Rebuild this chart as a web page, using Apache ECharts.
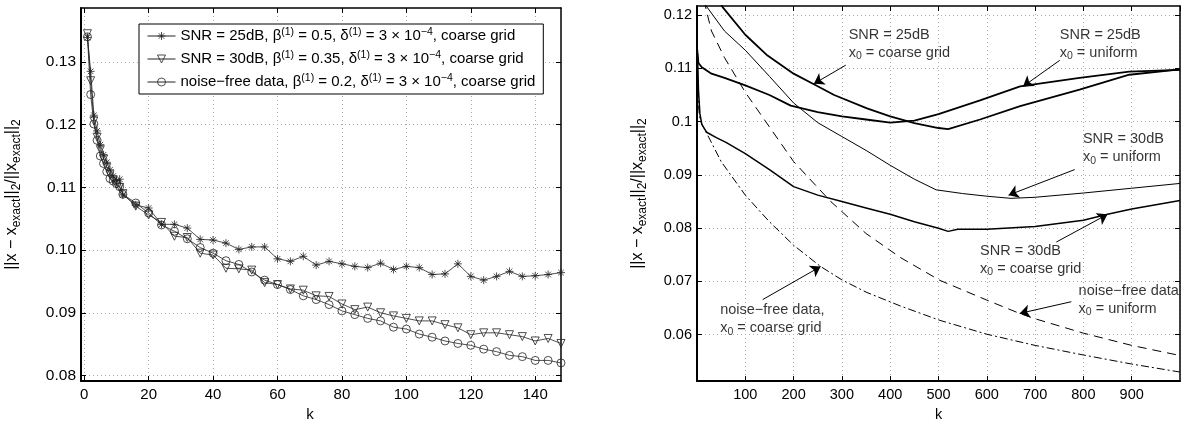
<!DOCTYPE html>
<html>
<head>
<meta charset="utf-8">
<script src="https://cdn.jsdelivr.net/npm/echarts@6/dist/echarts.min.js"></script>
<style>
html, body { margin: 0; padding: 0; background: #fff; }
#chart { width: 1188px; height: 427px; }
</style>
</head>
<body>
<div id="chart"></div>
<script>
// ---------- left panel: k vs relative error ----------
var kLeft = [1, 2, 3, 4, 5, 6, 7, 8, 9, 10, 11, 12, 16, 20, 24, 28, 32, 36, 40, 44, 48, 52, 56, 60,
    64, 68, 72, 76, 80, 84, 88, 92, 96, 100, 104, 108, 112, 116, 120, 124, 128, 132, 136, 140, 144, 148];
var snr25Left = [0.1339, 0.1285, 0.1215, 0.1190, 0.1168, 0.1152, 0.1140, 0.1128, 0.1118, 0.1110, 0.1113, 0.1088,
    0.1072, 0.1067, 0.1041, 0.1041, 0.1035, 0.1017, 0.1016, 0.1011, 0.1001, 0.1005, 0.1005, 0.0986,
    0.0982, 0.0990, 0.0976, 0.0982, 0.0978, 0.0974, 0.0972, 0.0979, 0.0969, 0.0974, 0.0972, 0.0961,
    0.0962, 0.0978, 0.0958, 0.0952, 0.0958, 0.0966, 0.0958, 0.0959, 0.0961, 0.0964];
var snr30Left = [0.1345, 0.1270, 0.1206, 0.1180, 0.1160, 0.1145, 0.1132, 0.1120, 0.1112, 0.1105, 0.1100, 0.1090,
    0.1070, 0.1056, 0.1044, 0.1022, 0.1020, 0.0995, 0.0992, 0.0971, 0.0970, 0.0968, 0.0948, 0.0945,
    0.0938, 0.0936, 0.0927, 0.0926, 0.0914, 0.0905, 0.0909, 0.0900, 0.0895, 0.0891, 0.0887, 0.0887,
    0.0881, 0.0876, 0.0865, 0.0868, 0.0868, 0.0865, 0.0862, 0.0855, 0.0859, 0.0851];
var noiseFreeLeft = [0.1340, 0.1248, 0.1201, 0.1175, 0.1150, 0.1138, 0.1125, 0.1114, 0.1110, 0.1106, 0.1101, 0.1089,
    0.1075, 0.1059, 0.1040, 0.1030, 0.1018, 0.1004, 0.0995, 0.0983, 0.0977, 0.0965, 0.0952, 0.0945,
    0.0937, 0.0927, 0.0921, 0.0913, 0.0903, 0.0897, 0.0891, 0.0887, 0.0877, 0.0874, 0.0866, 0.0861,
    0.0855, 0.0851, 0.0848, 0.0842, 0.0838, 0.0832, 0.0830, 0.0824, 0.0824, 0.0820];
var leftNames = ['SNR = 25dB', 'SNR = 30dB', 'noise-free data'];
var leftLegend = [
    'SNR = 25dB, β{sup|(1)} = 0.5, δ{sup|(1)} = 3 × 10{sup|−4}, coarse grid',
    'SNR = 30dB, β{sup|(1)} = 0.35, δ{sup|(1)} = 3 × 10{sup|−4}, coarse grid',
    'noise−free data, β{sup|(1)} = 0.2, δ{sup|(1)} = 3 × 10{sup|−4}, coarse grid'
];
var leftXTicks = [0, 20, 40, 60, 80, 100, 120, 140];
var leftYTicks = [0.08, 0.09, 0.10, 0.11, 0.12, 0.13];

// ---------- right panel ----------
var kA = [45, 53, 100, 146, 200, 242, 284, 352, 400, 450, 500, 520, 586, 669, 792, 895, 1000];
var snr25Coarse = [0.1228, 0.1215, 0.1163, 0.1124, 0.1090, 0.1070, 0.1050, 0.1025, 0.1010, 0.0997, 0.0988, 0.0986, 0.1004, 0.1029, 0.1060, 0.1088, 0.1098];
var kB = [1, 3, 10, 30, 57, 100, 150, 194, 250, 300, 350, 400, 450, 500, 586, 669, 792, 895, 1000];
var snr25Uniform = [0.1128, 0.1110, 0.1102, 0.1090, 0.1082, 0.1068, 0.1050, 0.1030, 0.1018, 0.1010, 0.1004, 0.0998, 0.1002, 0.1014, 0.1040, 0.1066, 0.1082, 0.1094, 0.1097];
var kC = [12, 15, 57, 100, 150, 200, 250, 300, 350, 400, 450, 495, 550, 600, 650, 700, 800, 900, 1000];
var snr30Uniform = [0.1228, 0.1222, 0.1170, 0.1134, 0.1085, 0.1035, 0.0998, 0.0972, 0.0946, 0.0918, 0.0892, 0.0872, 0.0865, 0.0860, 0.0856, 0.0858, 0.0866, 0.0875, 0.0884];
var kD = [1, 3, 6, 10, 20, 40, 60, 100, 150, 200, 250, 300, 350, 400, 450, 500, 520, 540, 600, 700, 800, 850, 900, 1000];
var snr30Coarse = [0.1135, 0.1060, 0.1015, 0.0995, 0.0980, 0.0970, 0.0961, 0.0940, 0.0910, 0.0878, 0.0862, 0.0850, 0.0838, 0.0826, 0.0812, 0.0800, 0.0794, 0.0798, 0.0798, 0.0803, 0.0815, 0.0826, 0.0836, 0.0852];
var kE = [15, 19, 30, 57, 100, 150, 200, 277, 350, 421, 503, 600, 668, 700, 800, 900, 1000];
var noiseFreeUniform = [0.1228, 0.1210, 0.1170, 0.1120, 0.1055, 0.0990, 0.0925, 0.0850, 0.0790, 0.0745, 0.0702, 0.0665, 0.0640, 0.0630, 0.0603, 0.0580, 0.0561];
var kF = [1, 5, 10, 19, 50, 100, 150, 200, 256, 300, 350, 421, 503, 600, 700, 800, 900, 1000];
var noiseFreeCoarse = [0.1060, 0.1010, 0.0995, 0.0980, 0.0925, 0.0862, 0.0812, 0.0768, 0.0728, 0.0703, 0.0680, 0.0654, 0.0627, 0.0601, 0.0580, 0.0562, 0.0545, 0.0530];
var rightYTicks = [0.06, 0.07, 0.08, 0.09, 0.10, 0.11, 0.12];

// 注释文字 [k, value, text] 与箭头 [k1, v1, k2, v2]
var notes = [
    [314, 0.1180, 'SNR = 25dB\nx{sub|0} = coarse grid'],
    [751, 0.1180, 'SNR = 25dB\nx{sub|0} = uniform'],
    [799, 0.0984, 'SNR = 30dB\nx{sub|0} = uniform'],
    [586, 0.0774, 'SNR = 30dB\nx{sub|0} = coarse grid'],
    [790, 0.0699, 'noise−free data\nx{sub|0} = uniform'],
    [48, 0.0663, 'noise−free data,\nx{sub|0} = coarse grid']
];
var arrows = [
    [308, 0.1106, 242, 0.1071],
    [751, 0.1115, 675, 0.1066],
    [782, 0.0910, 645, 0.0862],
    [744, 0.0774, 850, 0.0826],
    [775, 0.0662, 668, 0.0640],
    [136, 0.0666, 256, 0.0728]
];

var FONT = '"Liberation Sans", Arial, Helvetica, sans-serif';
var yName = '||x − x{sub|exact}||{sub|2}/||x{sub|exact}||{sub|2}';

function pairs(ks, vs) {
    return ks.map(function (k, i) { return [k, vs[i]]; });
}

var chart = echarts.init(document.getElementById('chart'));

var gridLine = { show: true, lineStyle: { color: '#aaa', type: [1, 3], width: 1 } };
var frameLine = { show: true, onZero: false, lineStyle: { color: '#000', width: 2 } };
var inTick = { show: true, inside: true, length: 5, lineStyle: { color: '#000' } };
var nameRich = {
    sub: { fontSize: 12, fontFamily: FONT, color: '#000', verticalAlign: 'bottom', lineHeight: 22 }
};

// 星号标记 (MATLAB '*')
var starPath = 'path://M5,0L5,10M0,5L10,5M1.5,1.5L8.5,8.5M1.5,8.5L8.5,1.5';
var leftLine = { color: '#222', width: 0.8 };
var starMark = { color: '#222', borderColor: '#222', borderWidth: 0.8 };
var hollowMark = { color: 'rgba(255,255,255,0)', borderColor: '#222', borderWidth: 0.8 };

var option = {
    animation: false,
    backgroundColor: '#fff',
    textStyle: { fontFamily: FONT, color: '#000' },
    grid: [
        { left: 79, top: 8, width: 482, height: 381 },
        { left: 697, top: 6, width: 483, height: 383 }
    ],
    legend: {
        orient: 'vertical',
        left: 139,
        top: 24,
        data: leftNames,
        backgroundColor: '#fff',
        borderColor: '#000',
        borderWidth: 1,
        padding: [3, 8, 3, 8],
        itemWidth: 28,
        itemHeight: 10,
        itemGap: 5,
        lineStyle: { width: 1, color: '#222' },
        itemStyle: { borderWidth: 0.8, borderColor: '#222' },
        formatter: function (name) { return leftLegend[leftNames.indexOf(name)]; },
        textStyle: {
            fontFamily: FONT, fontSize: 15, color: '#000', lineHeight: 18,
            rich: { sup: { fontSize: 10.5, fontFamily: FONT, color: '#000', verticalAlign: 'top', lineHeight: 18 } }
        }
    },
    xAxis: [
        {
            type: 'value', gridIndex: 0, min: -1, max: 148,
            name: 'k', nameLocation: 'middle', nameGap: 25,
            nameTextStyle: { fontSize: 15, color: '#000', padding: [0, 22, 0, 0] },
            axisLine: frameLine,
            axisTick: Object.assign({ customValues: leftXTicks }, inTick),
            axisLabel: { customValues: leftXTicks, fontSize: 15, color: '#000', margin: 6 },
            splitLine: gridLine
        },
        {
            type: 'value', gridIndex: 0, min: -1, max: 148, position: 'top',
            axisLine: { show: true, onZero: false, lineStyle: { color: '#000', width: 1.5 } },
            axisTick: Object.assign({ customValues: leftXTicks }, inTick),
            axisLabel: { show: false },
            splitLine: { show: false }
        },
        {
            type: 'value', gridIndex: 1, min: 0, max: 1000, interval: 100,
            name: 'k', nameLocation: 'middle', nameGap: 25,
            nameTextStyle: { fontSize: 14.5, color: '#000' },
            axisLine: frameLine,
            axisTick: inTick,
            axisLabel: { fontSize: 14.5, color: '#000', margin: 6, showMinLabel: false, showMaxLabel: false },
            splitLine: gridLine
        },
        {
            type: 'value', gridIndex: 1, min: 0, max: 1000, interval: 100, position: 'top',
            axisLine: { show: true, onZero: false, lineStyle: { color: '#000', width: 1.5 } },
            axisTick: inTick,
            axisLabel: { show: false },
            splitLine: { show: false }
        }
    ],
    yAxis: [
        {
            type: 'value', gridIndex: 0, min: 0.0791, max: 0.1386,
            name: yName, nameLocation: 'middle', nameGap: 58, nameRotate: 90,
            nameTextStyle: { fontSize: 16, color: '#000', fontFamily: FONT, lineHeight: 22, rich: nameRich },
            axisLine: frameLine,
            axisTick: Object.assign({ customValues: leftYTicks }, inTick),
            axisLabel: {
                customValues: leftYTicks, fontSize: 15.5, color: '#000', margin: 5,
                formatter: function (v) { return v.toFixed(2); }
            },
            splitLine: gridLine
        },
        {
            type: 'value', gridIndex: 0, min: 0.0791, max: 0.1386, position: 'right',
            axisLine: { show: true, onZero: false, lineStyle: { color: '#000', width: 1.5 } },
            axisTick: Object.assign({ customValues: leftYTicks }, inTick),
            axisLabel: { show: false },
            splitLine: { show: false }
        },
        {
            type: 'value', gridIndex: 1, min: 0.0513, max: 0.1217,
            name: yName, nameLocation: 'middle', nameGap: 48, nameRotate: 90,
            nameTextStyle: { fontSize: 16, color: '#000', fontFamily: FONT, lineHeight: 22, rich: nameRich },
            axisLine: frameLine,
            axisTick: Object.assign({ customValues: rightYTicks }, inTick),
            axisLabel: {
                customValues: rightYTicks, fontSize: 14.5, color: '#000', margin: 5,
                formatter: function (v) { return String(+v.toFixed(2)); }
            },
            splitLine: gridLine
        },
        {
            type: 'value', gridIndex: 1, min: 0.0513, max: 0.1217, position: 'right',
            axisLine: { show: true, onZero: false, lineStyle: { color: '#000', width: 1.5 } },
            axisTick: Object.assign({ customValues: rightYTicks }, inTick),
            axisLabel: { show: false },
            splitLine: { show: false }
        }
    ],
    series: [
        {
            name: leftNames[0], type: 'line', xAxisIndex: 0, yAxisIndex: 0,
            data: pairs(kLeft, snr25Left),
            symbol: starPath, symbolSize: 8,
            lineStyle: leftLine,
            itemStyle: starMark
        },
        {
            name: leftNames[1], type: 'line', xAxisIndex: 0, yAxisIndex: 0,
            data: pairs(kLeft, snr30Left),
            symbol: 'triangle', symbolRotate: 180, symbolSize: 8,
            lineStyle: leftLine,
            itemStyle: hollowMark
        },
        {
            name: leftNames[2], type: 'line', xAxisIndex: 0, yAxisIndex: 0,
            data: pairs(kLeft, noiseFreeLeft),
            symbol: 'circle', symbolSize: 8,
            lineStyle: leftLine,
            itemStyle: hollowMark
        },
        {
            name: 'SNR 25dB coarse', type: 'line', xAxisIndex: 2, yAxisIndex: 2,
            data: pairs(kA, snr25Coarse), showSymbol: false,
            lineStyle: { color: '#000', width: 1.8 }
        },
        {
            name: 'SNR 25dB uniform', type: 'line', xAxisIndex: 2, yAxisIndex: 2,
            data: pairs(kB, snr25Uniform), showSymbol: false,
            lineStyle: { color: '#000', width: 1.8 }
        },
        {
            name: 'SNR 30dB uniform', type: 'line', xAxisIndex: 2, yAxisIndex: 2,
            data: pairs(kC, snr30Uniform), showSymbol: false,
            lineStyle: { color: '#000', width: 1 }
        },
        {
            name: 'SNR 30dB coarse', type: 'line', xAxisIndex: 2, yAxisIndex: 2,
            data: pairs(kD, snr30Coarse), showSymbol: false,
            lineStyle: { color: '#000', width: 1.5 }
        },
        {
            name: 'noise-free uniform', type: 'line', xAxisIndex: 2, yAxisIndex: 2,
            data: pairs(kE, noiseFreeUniform), showSymbol: false,
            lineStyle: { color: '#000', width: 1, type: [9, 6] }
        },
        {
            name: 'noise-free coarse', type: 'line', xAxisIndex: 2, yAxisIndex: 2,
            data: pairs(kF, noiseFreeCoarse), showSymbol: false,
            lineStyle: { color: '#000', width: 1, type: [8, 3, 2, 3] }
        },
        {
            name: 'notes', type: 'scatter', xAxisIndex: 2, yAxisIndex: 2,
            symbolSize: 0, silent: true, z: 10,
            data: notes.map(function (n) {
                return { value: [n[0], n[1]], label: { formatter: n[2] } };
            }),
            label: {
                show: true, position: [0, 0], align: 'left', verticalAlign: 'top',
                fontFamily: FONT, fontSize: 14.5, lineHeight: 18, color: '#000',
                rich: { sub: { fontSize: 10.5, fontFamily: FONT, color: '#000', verticalAlign: 'bottom', lineHeight: 18 } }
            },
            markLine: {
                silent: true,
                symbol: ['none', 'arrow'],
                symbolSize: 10,
                label: { show: false },
                lineStyle: { color: '#000', width: 1, type: 'solid' },
                emphasis: { disabled: true },
                data: arrows.map(function (a) {
                    return [{ coord: [a[0], a[1]] }, { coord: [a[2], a[3]] }];
                })
            }
        }
    ]
};

chart.setOption(option);

window.addEventListener('resize', function () {
    chart.resize();
});
</script>
</body>
</html>
